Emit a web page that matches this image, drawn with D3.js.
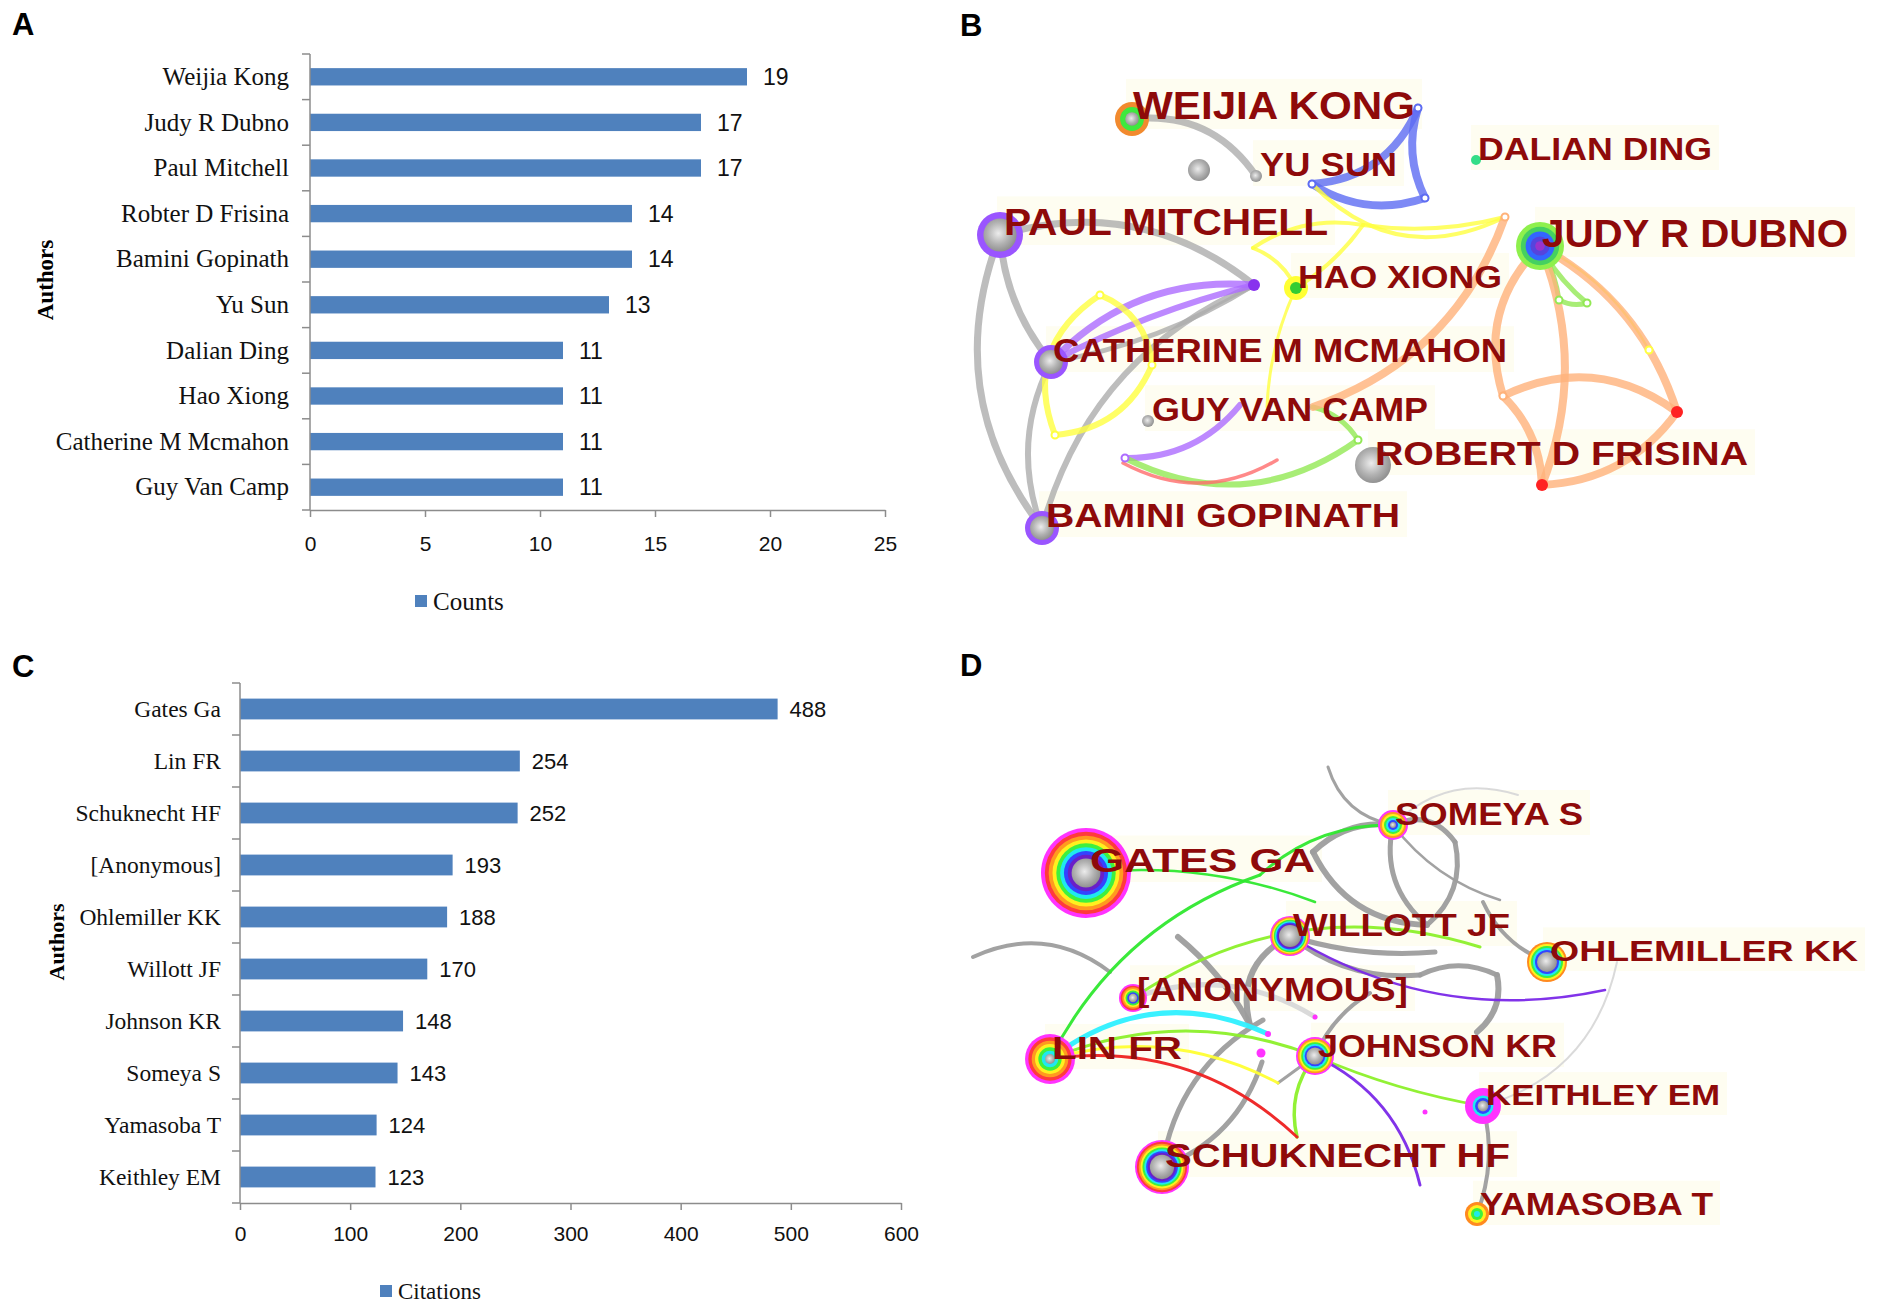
<!DOCTYPE html>
<html>
<head>
<meta charset="utf-8">
<script src="https://cdn.jsdelivr.net/npm/d3@7"></script>
<style>
  body { margin: 0; background: #fff; }
  svg { display: block; }
</style>
</head>
<body>
<svg id="fig" width="1904" height="1304"></svg>
<script>
// ---- Panel A: publications per author
const countAuthors = ["Weijia Kong", "Judy R Dubno", "Paul Mitchell", "Robter D Frisina", "Bamini Gopinath",
  "Yu Sun", "Dalian Ding", "Hao Xiong", "Catherine M Mcmahon", "Guy Van Camp"];
const countValues = [19, 17, 17, 14, 14, 13, 11, 11, 11, 11];
const countTicks = [0, 5, 10, 15, 20, 25];

// ---- Panel C: citations per cited author
const citedAuthors = ["Gates Ga", "Lin FR", "Schuknecht HF", "[Anonymous]", "Ohlemiller KK",
  "Willott JF", "Johnson KR", "Someya S", "Yamasoba T", "Keithley EM"];
const citationValues = [488, 254, 252, 193, 188, 170, 148, 143, 124, 123];
const citationTicks = [0, 100, 200, 300, 400, 500, 600];

// ---- Panel B: co-authorship map, layout [id, x, y, radius]
const coauthorNodes = [
  ["wk", 172, 59, 17], ["g1", 239, 110, 11], ["ys", 296, 116, 6], ["pm", 40, 175, 23],
  ["hx", 336, 228, 12], ["pd", 294, 225, 6], ["cm", 91, 302, 17], ["gv", 188, 361, 6],
  ["rf", 413, 405, 18], ["bg", 82, 468, 17], ["dd", 516, 100, 5], ["jd", 580, 186, 24],
  ["r1", 717, 352, 6], ["r2", 582, 425, 6]
];
const coauthorJunctions = [
  ["o1", 545, 157], ["o2", 543, 336], ["o3", 353, 347], ["b1", 458, 48], ["b2", 352, 124],
  ["b3", 465, 138], ["y1", 403, 165], ["y2", 293, 188], ["y3", 307, 347], ["y4", 689, 290],
  ["y5", 140, 235], ["y6", 95, 375], ["y7", 192, 305], ["p1", 165, 398], ["m", 280, 345],
  ["g2", 398, 380], ["rd1", 163, 403], ["rd2", 317, 400], ["gr1", 599, 240], ["gr2", 627, 243]
];
// [from, to, colour key, width, bend]
const coauthorEdges = [
  ["wk", "ys", "gray", 7, 0.15], ["pm", "pd", "gray", 7, 0.13], ["pm", "bg", "gray", 7, -0.14],
  ["pm", "cm", "gray", 7, -0.08], ["cm", "bg", "gray", 6, -0.11], ["bg", "pd", "gray", 6, 0.12],
  ["cm", "pd", "gray", 5, -0.05],
  ["cm", "pd", "purple", 7, 0.12], ["cm", "pd", "purple", 6, 0.03], ["m", "p1", "purple", 6, 0.12],
  ["b1", "b2", "blue", 8, 0.15], ["b1", "b3", "blue", 8, -0.1], ["b2", "b3", "blue", 8, -0.12],
  ["b2", "o1", "yellow", 4, -0.18], ["y1", "o1", "yellow", 4, -0.05], ["y1", "hx", "yellow", 4, 0.05],
  ["y1", "y2", "yellow", 4, -0.1], ["y2", "hx", "yellow", 4, 0.1], ["hx", "y3", "yellow", 3, -0.05],
  ["jd", "y4", "yellow", 2.5, 0.08], ["y5", "y6", "yellow", 6, -0.2], ["y5", "y7", "yellow", 6, 0.15],
  ["y7", "y6", "yellow", 6, 0.15],
  ["p1", "g2", "green", 6, -0.15], ["o3", "g2", "green", 5, 0.1], ["jd", "gr1", "green", 5, 0.05],
  ["jd", "gr2", "green", 5, -0.05], ["gr1", "gr2", "green", 5, -0.1],
  ["rd1", "rd2", "red", 3.5, -0.14],
  ["o1", "o3", "orange", 8, 0.12], ["jd", "o2", "orange", 8, -0.15], ["o2", "r2", "orange", 8, 0.1],
  ["jd", "r2", "orange", 8, 0.1], ["o2", "r1", "orange", 8, 0.15], ["jd", "r1", "orange", 8, 0.1],
  ["r1", "r2", "orange", 8, 0.12]
];
// [text, x, baseline, width, size]
const coauthorLabels = [
  ["WEIJIA KONG", 173, 59, 282, 39], ["YU SUN", 300, 116, 137, 33], ["DALIAN DING", 518, 100, 234, 32],
  ["PAUL MITCHELL", 44, 175, 324, 37], ["JUDY R DUBNO", 582, 187, 306, 39], ["HAO XIONG", 338, 228, 204, 32],
  ["CATHERINE M MCMAHON", 93, 302, 454, 33], ["GUY VAN CAMP", 192, 361, 276, 33],
  ["ROBERT D FRISINA", 415, 405, 373, 33], ["BAMINI GOPINATH", 86, 467, 354, 33]
];

// ---- Panel D: co-citation map
const cocitedNodes = [
  ["ga", 126, 128, 45], ["ss", 433, 80, 15], ["wj", 330, 191, 20], ["ok", 587, 217, 20],
  ["an", 173, 253, 14], ["lf", 90, 314, 25], ["jk", 355, 311, 19], ["ke", 523, 361, 18],
  ["sh", 202, 422, 27], ["yt", 517, 469, 12],
  ["d1", 355, 272, 2.5], ["d2", 308, 289, 3], ["d3", 301, 308, 4.5], ["d4", 465, 367, 2.5]
];
const cocitedJunctions = [
  ["t1", 368, 22], ["t2", 558, 50], ["ge", 353, 107], ["ja", 467, 180], ["jb", 540, 155],
  ["jc", 495, 97], ["jdd", 290, 280], ["je", 218, 192], ["jf", 13, 212], ["jg", 150, 227],
  ["jh", 303, 275], ["ji", 302, 317], ["jj", 410, 248], ["jk2", 318, 338], ["jl", 523, 157],
  ["jm", 537, 230], ["jn", 517, 287], ["jo", 460, 230], ["jp", 657, 217], ["jq", 475, 207],
  ["gg1", 300, 130], ["gg2", 355, 157], ["l1", 520, 202], ["l2", 337, 392],
  ["pp1", 645, 245], ["pp2", 460, 440]
];
const cocitedEdges = [
  ["t1", "ss", "dgray", 3, -0.15], ["ss", "t2", "lgray", 2, 0.15], ["ss", "ge", "dgray", 6, -0.12],
  ["ss", "ja", "dgray", 5, -0.15], ["ss", "jb", "dgray", 2.5, -0.08], ["ss", "jc", "dgray", 5, 0.2],
  ["jc", "ja", "dgray", 5, 0.15], ["ge", "ja", "dgray", 6, -0.15], ["wj", "jdd", "dgray", 6, -0.2],
  ["je", "jdd", "dgray", 6, 0.05], ["jf", "jg", "dgray", 4, 0.15], ["sh", "jh", "dgray", 5, 0.12],
  ["sh", "ji", "dgray", 5, -0.12], ["jk", "jj", "dgray", 4, 0.08], ["jk", "jk2", "dgray", 3, 0],
  ["jl", "ok", "dgray", 4, -0.1], ["jo", "jm", "dgray", 5, 0.12], ["jm", "jn", "dgray", 6, 0.15],
  ["jp", "ke", "lgray", 2, 0.15], ["ke", "yt", "dgray", 4, 0.08], ["wj", "jq", "dgray", 5, -0.05],
  ["wj", "jo", "dgray", 5, -0.1], ["an", "d1", "lgray", 5, 0.12],
  ["ss", "gg1", "dgreen", 3, -0.1], ["gg1", "lf", "dgreen", 3, -0.1], ["ga", "gg2", "dgreen", 2.5, 0.06],
  ["an", "l1", "lime", 3, 0.12], ["lf", "jk", "lime", 3, 0.1], ["jk", "ke", "lime", 2.5, -0.03],
  ["jk", "l2", "lime", 3.5, -0.12], ["lf", "d2", "cyan", 5, 0.15], ["lf", "jk2", "dyellow", 3, 0.1],
  ["lf", "l2", "dred", 3, 0.12], ["wj", "pp1", "violet", 2.5, -0.1], ["jk", "pp2", "violet", 3, 0.12]
];
const cocitedLabels = [
  ["GATES GA", 130, 127, 225, 34], ["SOMEYA S", 435, 80, 188, 32], ["WILLOTT JF", 333, 191, 217, 32],
  ["OHLEMILLER KK", 590, 216, 308, 30], ["[ANONYMOUS]", 177, 256, 271, 33], ["LIN FR", 92, 314, 130, 32],
  ["JOHNSON KR", 358, 312, 239, 31], ["KEITHLEY EM", 526, 360, 234, 29],
  ["SCHUKNECHT HF", 205, 422, 345, 33], ["YAMASOBA T", 520, 470, 233, 31]
];

// ---- styles
const edgeColors = {
  gray: "#acacac", purple: "#ad6cff", blue: "#5d6cf2", yellow: "#ffff40", green: "#92e854",
  red: "#ff6b6b", orange: "#ffb27a",
  dgray: "#9d9d9d", lgray: "#d8d8d8", dgreen: "#2fe82f", lime: "#8cf02a", cyan: "#2ef0ff",
  dyellow: "#ffff33", dred: "#ee2020", violet: "#7a28e8"
};
const rainbow = ["#ff33ff", "#ff3b3b", "#ff9a1f", "#fff01f", "#3ef03e", "#1fe8f0", "#3344ff", "#6a1fc8"];
const nodeStyle = {
  wk: { rings: ["#f28a2e", "#3ee83e"], core: 0.4 }, g1: { rings: [], core: 1 }, ys: { rings: [], core: 1 },
  pm: { rings: ["#9a55ff"], core: 0.72 }, hx: { rings: ["#ffff33", "#33cc33"], core: 0 },
  pd: { rings: ["#8833ee"], core: 0 }, cm: { rings: ["#9a55ff"], core: 0.7 }, gv: { rings: [], core: 1 },
  rf: { rings: [], core: 1 }, bg: { rings: ["#9a55ff"], core: 0.7 }, dd: { rings: ["#33dd88"], core: 0 },
  jd: { rings: ["#8ef04c", "#45d060", "#3366ff", "#5544dd", "#9933cc"], core: 0 },
  r1: { rings: ["#ff2222"], core: 0 }, r2: { rings: ["#ff2222"], core: 0 },
  ga: { rings: rainbow, core: 0.32 },
  ss: { rings: ["#ff33ff", "#ff9a1f", "#fff01f", "#3ef03e", "#1fe8f0", "#3344ff"], core: 0.2 },
  wj: { rings: ["#ff33ff", "#ff9a1f", "#fff01f", "#3ef03e", "#1fe8f0", "#3344ff", "#6a1fc8"], core: 0.55 },
  ok: { rings: ["#ff8a1f", "#fff01f", "#3ef03e", "#1fe8f0", "#3344ff"], core: 0.5 },
  an: { rings: ["#ff33ff", "#ff3b3b", "#ff9a1f", "#fff01f", "#3ef03e", "#3344ff"], core: 0.3 },
  lf: { rings: ["#ff33ff", "#ff3b3b", "#ff9a1f", "#fff01f", "#3ef03e", "#1fe8f0"], core: 0.2 },
  jk: { rings: ["#ff33ff", "#ff9a1f", "#fff01f", "#3ef03e", "#1fe8f0", "#3344ff"], core: 0.45 },
  ke: { rings: ["#ff33ff", "#ff33ff", "#ff33ff", "#1fe8f0", "#3344ff"], core: 0.3 },
  sh: { rings: rainbow, core: 0.45 }, yt: { rings: ["#ff8a1f", "#fff01f", "#3ef03e", "#1fe8f0"], core: 0 },
  d1: { rings: ["#ff33ff"], core: 0 }, d2: { rings: ["#ff33ff"], core: 0 },
  d3: { rings: ["#ff33ff"], core: 0 }, d4: { rings: ["#ff33ff"], core: 0 }
};
// hollow markers on junctions of panel B
const junctionMarks = { o1: "orange", o2: "orange", b1: "blue", b2: "blue", b3: "blue", y5: "yellow",
  y6: "yellow", y7: "yellow", gr1: "green", gr2: "green", p1: "purple", g2: "green", y4: "yellow" };

const svg = d3.select("#fig");
const defs = svg.append("defs");
const ball = defs.append("radialGradient").attr("id", "grayBall").attr("cx", "45%").attr("cy", "45%").attr("r", "60%");
ball.append("stop").attr("offset", "0%").attr("stop-color", "#ececec");
ball.append("stop").attr("offset", "55%").attr("stop-color", "#b2b2b2");
ball.append("stop").attr("offset", "100%").attr("stop-color", "#8a8a8a");

// panel letters
[["A", 12, 35], ["B", 960, 36], ["C", 12, 677], ["D", 960, 676]].forEach(([t, x, y]) => {
  svg.append("text").attr("x", x).attr("y", y).text(t)
    .attr("font-family", "Liberation Sans, Arial, sans-serif").attr("font-weight", "bold")
    .attr("font-size", 31).attr("fill", "#000");
});

function barPanel(cfg) {
  const g = svg.append("g");
  const x = d3.scaleLinear().domain([0, d3.max(cfg.ticks)]).range([cfg.left, cfg.right]);
  const y = d3.scaleBand().domain(cfg.cats).range([cfg.top, cfg.bottom])
    .paddingInner(cfg.pad).paddingOuter(cfg.pad / 2);
  const axisColor = "#8c8c8c";

  g.selectAll("rect.bar").data(cfg.cats).join("rect")
    .attr("class", "bar")
    .attr("x", x(0))
    .attr("y", d => y(d))
    .attr("width", (d, i) => x(cfg.values[i]) - x(0))
    .attr("height", y.bandwidth())
    .attr("fill", "#4f81bd");

  // x axis
  const xa = g.append("g").attr("transform", `translate(0,${cfg.bottom})`)
    .call(d3.axisBottom(x).tickValues(cfg.ticks).tickSize(7).tickSizeOuter(0).tickPadding(cfg.tickPad));
  xa.select(".domain").attr("stroke", axisColor).attr("stroke-width", 1.5);
  xa.selectAll(".tick line").attr("stroke", axisColor).attr("stroke-width", 1.5);
  xa.selectAll(".tick text").attr("font-family", "Liberation Sans, Arial, sans-serif")
    .attr("font-size", cfg.tickFont).attr("fill", "#111");

  // y axis with category boundary ticks
  g.append("line").attr("x1", x(0)).attr("x2", x(0)).attr("y1", cfg.top).attr("y2", cfg.bottom)
    .attr("stroke", axisColor).attr("stroke-width", 1.5);
  g.selectAll("line.cat").data(d3.range(cfg.cats.length + 1)).join("line")
    .attr("class", "cat")
    .attr("x1", x(0) - 8).attr("x2", x(0))
    .attr("y1", i => cfg.top + i * y.step()).attr("y2", i => cfg.top + i * y.step())
    .attr("stroke", axisColor).attr("stroke-width", 1.5);

  g.selectAll("text.cat").data(cfg.cats).join("text")
    .attr("class", "cat")
    .attr("x", cfg.labelX)
    .attr("y", d => y(d) + y.bandwidth() / 2)
    .attr("dy", "0.33em")
    .attr("text-anchor", "end")
    .attr("font-family", "Liberation Serif, Times New Roman, serif")
    .attr("font-size", cfg.catFont)
    .attr("fill", "#111")
    .text(d => d);

  g.selectAll("text.val").data(cfg.cats).join("text")
    .attr("class", "val")
    .attr("x", (d, i) => x(cfg.values[i]) + cfg.valGap)
    .attr("y", d => y(d) + y.bandwidth() / 2)
    .attr("dy", "0.36em")
    .attr("font-family", "Liberation Sans, Arial, sans-serif")
    .attr("font-size", cfg.valFont)
    .attr("fill", "#111")
    .text((d, i) => cfg.values[i]);

  g.append("text")
    .attr("transform", `translate(${cfg.titleX},${cfg.titleY}) rotate(-90)`)
    .attr("text-anchor", "middle")
    .attr("font-family", "Liberation Serif, Times New Roman, serif")
    .attr("font-weight", "bold")
    .attr("font-size", cfg.titleFont)
    .text("Authors");

  g.append("rect").attr("x", cfg.legX).attr("y", cfg.legY - 6).attr("width", 12).attr("height", 12)
    .attr("fill", "#4f81bd");
  g.append("text").attr("x", cfg.legX + 18).attr("y", cfg.legY).attr("dy", "0.34em")
    .attr("font-family", "Liberation Serif, Times New Roman, serif")
    .attr("font-size", cfg.legFont).attr("fill", "#111").text(cfg.legend);
}

barPanel({
  cats: countAuthors, values: countValues, ticks: countTicks,
  left: 310, right: 885, top: 54, bottom: 510, pad: 0.62,
  labelX: 289, catFont: 25, valGap: 16, valFont: 23, tickFont: 21, tickPad: 19,
  titleX: 53, titleY: 280, titleFont: 23,
  legX: 415, legY: 601, legFont: 25, legend: "Counts"
});

barPanel({
  cats: citedAuthors, values: citationValues, ticks: citationTicks,
  left: 240, right: 901, top: 683, bottom: 1203, pad: 0.6,
  labelX: 221, catFont: 23.5, valGap: 12, valFont: 22, tickFont: 21, tickPad: 16,
  titleX: 64, titleY: 942, titleFont: 22,
  legX: 380, legY: 1291, legFont: 23, legend: "Citations"
});

function arcPath(s, t, bend) {
  const dx = t[0] - s[0], dy = t[1] - s[1];
  const cx = (s[0] + t[0]) / 2 + dy * bend * 2,
        cy = (s[1] + t[1]) / 2 - dx * bend * 2;
  return `M${s[0]},${s[1]}Q${cx},${cy} ${t[0]},${t[1]}`;
}

function networkPanel(cfg) {
  const g = svg.append("g");
  const x = d3.scaleLinear().domain([0, 940]).range([cfg.x0, cfg.x0 + 940]);
  const y = d3.scaleLinear().domain([0, 520]).range([cfg.y0, cfg.y0 + 520]);
  const pos = {};
  cfg.nodes.forEach(d => pos[d[0]] = [x(d[1]), y(d[2])]);
  cfg.junctions.forEach(d => pos[d[0]] = [x(d[1]), y(d[2])]);

  // pale label boxes
  g.selectAll("rect.lab").data(cfg.labels).join("rect")
    .attr("class", "lab")
    .attr("x", d => x(d[1]) - 7)
    .attr("y", d => y(d[2]) - d[4] * 0.72 - 12)
    .attr("width", d => d[3] + 14)
    .attr("height", d => d[4] * 0.72 + 22)
    .attr("fill", "#fefdf1");

  g.selectAll("path.edge").data(cfg.edges).join("path")
    .attr("class", "edge")
    .attr("d", d => arcPath(pos[d[0]], pos[d[1]], d[4]))
    .attr("fill", "none")
    .attr("stroke", d => edgeColors[d[2]])
    .attr("stroke-width", d => d[3])
    .attr("stroke-linecap", "round")
    .attr("opacity", cfg.edgeOpacity);

  const node = g.selectAll("g.node").data(cfg.nodes).join("g")
    .attr("class", "node")
    .attr("transform", d => `translate(${x(d[1])},${y(d[2])})`);
  node.each(function (d) {
    const st = nodeStyle[d[0]], r = d[3], n = st.rings.length, el = d3.select(this);
    st.rings.forEach((c, i) => {
      el.append("circle").attr("r", r * (1 - i * (1 - st.core) / n)).attr("fill", c);
    });
    if (st.core > 0) el.append("circle").attr("r", r * st.core).attr("fill", "url(#grayBall)");
  });

  if (cfg.marks) {
    g.selectAll("circle.junc").data(cfg.junctions.filter(d => cfg.marks[d[0]])).join("circle")
      .attr("class", "junc")
      .attr("cx", d => x(d[1])).attr("cy", d => y(d[2])).attr("r", 3.5)
      .attr("fill", "#fff").attr("stroke", d => edgeColors[cfg.marks[d[0]]]).attr("stroke-width", 2);
  }

  g.selectAll("text.lab").data(cfg.labels).join("text")
    .attr("class", "lab")
    .attr("x", d => x(d[1]))
    .attr("y", d => y(d[2]))
    .attr("textLength", d => d[3])
    .attr("lengthAdjust", "spacingAndGlyphs")
    .attr("font-family", "Liberation Sans, Arial, sans-serif")
    .attr("font-weight", "bold")
    .attr("font-size", d => d[4])
    .attr("fill", "#8e0a0a")
    .text(d => d[0]);
}

networkPanel({ x0: 960, y0: 60, nodes: coauthorNodes, junctions: coauthorJunctions,
  edges: coauthorEdges, labels: coauthorLabels, marks: junctionMarks, edgeOpacity: 0.8 });
networkPanel({ x0: 960, y0: 745, nodes: cocitedNodes, junctions: cocitedJunctions,
  edges: cocitedEdges, labels: cocitedLabels, marks: null, edgeOpacity: 0.95 });
</script>
</body>
</html>
